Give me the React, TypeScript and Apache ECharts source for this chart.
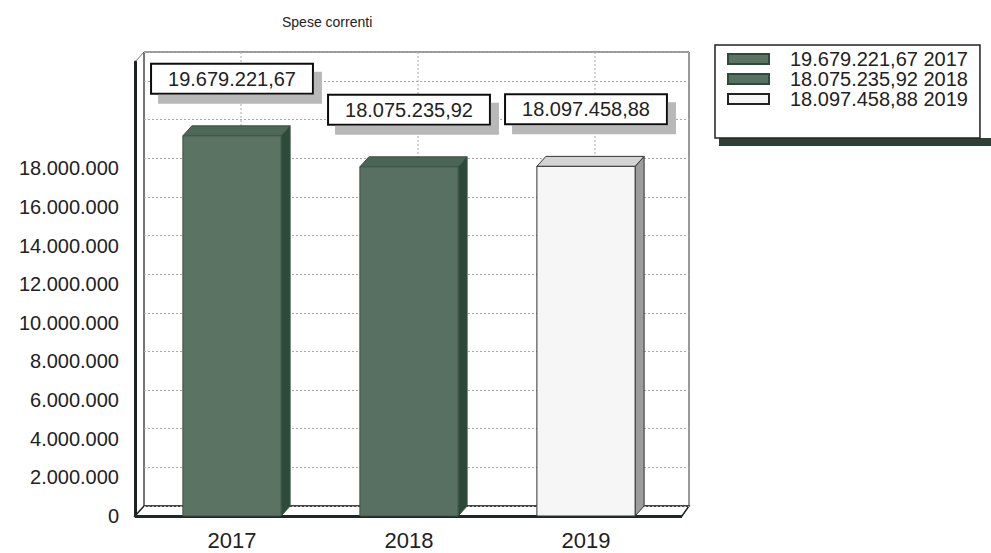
import React, { useEffect, useRef } from "react";
import * as echarts from "echarts";

const years = ["2017", "2018", "2019"];
const values = [19679221.67, 18075235.92, 18097458.88];
const yMax = 23500000;
const yInterval = 2000000;
const yLabelLimit = 18000000;

const frontColors = ["#5b7363", "#587062", "#f6f6f6"];
const topColors = ["#4d6857", "#4a6555", "#d4d4d4"];
const sideColors = ["#2e4a3a", "#2c4838", "#9c9c9c"];
const strokeColors = ["#3a5244", "#3a5244", "#333333"];

const FONT = "'Liberation Sans', Arial, sans-serif";
const DX = 9;
const DY = -10;

function fmtIt(v: number, dec: number): string {
  const s = v.toFixed(dec);
  const [i, d] = s.split(".");
  const withDots = i.replace(/\B(?=(\d{3})+(?!\d))/g, ".");
  return d ? withDots + "," + d : withDots;
}

const names = years.map((y, i) => `${fmtIt(values[i], 2)} ${y}`);

export default function App() {
  const ref = useRef<HTMLDivElement>(null);
  useEffect(() => {
    if (!ref.current) return;
    const chart = echarts.init(ref.current, null, { renderer: "svg" });

    const barSeries = years.map((y, i) => ({
      type: "custom",
      name: names[i],
      xAxisIndex: 0,
      yAxisIndex: 0,
      z: 3,
      itemStyle: { color: frontColors[i], borderColor: i === 2 ? "#222" : "#2e4a3a", borderWidth: 1 },
      encode: { x: 0, y: 1 },
      data: [[i, values[i]]],
      renderItem: (params: any, api: any) => {
        const idx = api.value(0);
        const v = api.value(1);
        const p = api.coord([idx, v]);
        const b = api.coord([idx, 0]);
        const w = api.size([1, 0])[0] * 0.555;
        const x = p[0] - w / 2;
        const yT = p[1];
        const yB = b[1];
        return {
          type: "group",
          children: [
            {
              type: "polygon",
              shape: { points: [[x + w, yT], [x + w + DX, yT + DY], [x + w + DX, yB + DY], [x + w, yB]] },
              style: { fill: sideColors[i], stroke: strokeColors[i], lineWidth: 1 },
            },
            {
              type: "polygon",
              shape: { points: [[x, yT], [x + DX, yT + DY], [x + w + DX, yT + DY], [x + w, yT]] },
              style: { fill: topColors[i], stroke: strokeColors[i], lineWidth: 1 },
            },
            {
              type: "rect",
              shape: { x, y: yT, width: w, height: yB - yT },
              style: { fill: frontColors[i], stroke: strokeColors[i], lineWidth: 1 },
            },
          ],
        };
      },
    }));

    const option: any = {
      animation: false,
      title: {
        text: "Spese correnti",
        left: 282,
        top: 15,
        padding: 0,
        textStyle: { fontSize: 14, fontWeight: "normal", color: "#222", fontFamily: FONT },
      },
      legend: {
        orient: "vertical",
        left: 715,
        top: 45,
        padding: [4, 12, 29, 12],
        itemGap: 0,
        itemWidth: 41,
        itemHeight: 10,
        icon: "rect",
        backgroundColor: "#fff",
        borderColor: "#222",
        borderWidth: 1.5,
        selectedMode: false,
        textStyle: { fontSize: 20, lineHeight: 20, color: "#222", fontFamily: FONT, padding: [0, 0, 0, 16] },
        data: names,
      },
      grid: [
        { left: 143.5, width: 531, top: 62, height: 454 },
        { left: 144, width: 545, top: 52, height: 454, show: true, borderColor: "#333", borderWidth: 1, backgroundColor: "transparent" },
      ],
      xAxis: [
        {
          type: "category",
          gridIndex: 0,
          data: years,
          axisLine: { show: false },
          axisTick: { show: false },
          axisLabel: { fontSize: 22, color: "#222", fontFamily: FONT, margin: 13 },
        },
        { type: "category", gridIndex: 1, data: years, show: false },
      ],
      yAxis: [
        {
          type: "value",
          gridIndex: 0,
          min: 0,
          max: yMax,
          interval: yInterval,
          offset: 8.5,
          axisLine: { show: true, lineStyle: { color: "#1c2420", width: 3 } },
          axisTick: { show: false },
          splitLine: { show: false },
          axisLabel: {
            fontSize: 20,
            color: "#222",
            fontFamily: FONT,
            margin: 16,
            showMaxLabel: false,
            formatter: (v: number) => (v > yLabelLimit ? "" : fmtIt(v, 0)),
          },
        },
        {
          type: "value",
          gridIndex: 1,
          min: 0,
          max: yMax,
          interval: yInterval,
          axisLine: { show: false },
          axisTick: { show: false },
          axisLabel: { show: false },
          splitLine: { show: true, lineStyle: { color: "#a8a8a8", type: [2, 2], width: 1 } },
        },
      ],
      graphic: [
        {
          type: "polygon",
          z: -10,
          shape: { points: [[135, 62], [144, 52], [144, 506], [135, 516]] },
          style: { fill: "#fff", stroke: "#777", lineWidth: 1 },
        },
        {
          type: "polygon",
          z: -10,
          shape: { points: [[135, 516], [144, 506], [689, 506], [682, 516]] },
          style: { fill: "#fff", stroke: "#222", lineWidth: 1.5 },
        },
        {
          type: "line",
          z: 1,
          shape: { x1: 135, y1: 516.5, x2: 682, y2: 516.5 },
          style: { stroke: "#1c2a22", lineWidth: 3 },
        },
        {
          type: "rect",
          z: -5,
          shape: { x: 719, y: 138, width: 272, height: 8 },
          style: { fill: "#2d4035" },
        },
      ],
      series: [
        {
          type: "custom",
          name: "backlines",
          xAxisIndex: 0,
          yAxisIndex: 0,
          z: 1,
          silent: true,
          encode: { x: 0, y: 1 },
          data: years.map((_, i) => [i, 0]),
          renderItem: (params: any, api: any) => {
            const b = api.coord([api.value(0), 0]);
            const t = api.coord([api.value(0), yMax]);
            return {
              type: "line",
              shape: { x1: b[0] + DX, y1: b[1] + DY, x2: t[0] + DX, y2: t[1] + DY },
              style: { stroke: "#a8a8a8", lineWidth: 1, lineDash: [2, 2] },
            };
          },
        },
        ...barSeries,
        {
          type: "bar",
          name: "labelBox",
          xAxisIndex: 0,
          yAxisIndex: 0,
          barWidth: 98,
          z: 5,
          silent: true,
          itemStyle: { color: "transparent" },
          data: values,
          label: {
            show: true,
            position: "top",
            distance: 43,
            formatter: (p: any) => fmtIt(values[p.dataIndex], 2),
            fontSize: 20,
            lineHeight: 20,
            fontFamily: FONT,
            color: "#222",
            backgroundColor: "#fff",
            borderColor: "#111",
            borderWidth: 2,
            padding: [4, 16],
            shadowColor: "#b8b8b8",
            shadowOffsetX: 8,
            shadowOffsetY: 9,
            shadowBlur: 0,
          },
        },
      ],
    };
    chart.setOption(option);
    return () => chart.dispose();
  }, []);
  return (
    <div
      ref={ref}
      style={{ position: "fixed", left: 0, top: 0, width: 991, height: 553, background: "#fff" }}
    />
  );
}
